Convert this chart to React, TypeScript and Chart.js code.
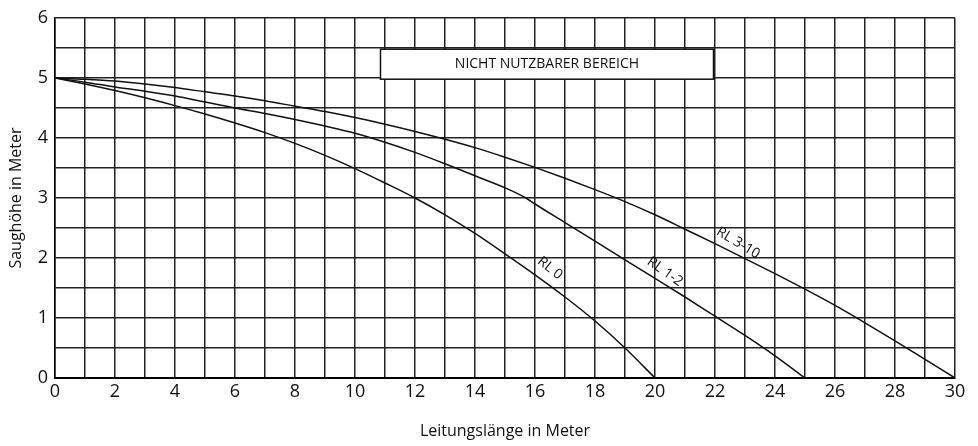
import React, { useEffect, useRef } from "react";
import { Chart, registerables } from "chart.js";

Chart.register(...registerables);

// RL 0 curve
const rl0X = [0, 1, 2, 3, 4, 5, 6, 7, 8, 9, 10, 11, 12, 13, 14, 15, 16, 17, 18, 19, 20];
const rl0Y = [5, 4.9, 4.79, 4.67, 4.54, 4.4, 4.25, 4.09, 3.91, 3.71, 3.49, 3.25, 3.0, 2.72, 2.41, 2.07, 1.72, 1.35, 0.95, 0.5, 0];

// RL 1-2 curve
const rl12X = [0, 1, 2, 3, 4, 5, 6, 7, 8, 9, 10, 11, 12, 13, 14, 15, 15.7, 16, 17, 18, 19, 20, 21, 22, 23, 24, 25];
const rl12Y = [5, 4.93, 4.85, 4.78, 4.7, 4.6, 4.5, 4.41, 4.31, 4.2, 4.08, 3.93, 3.76, 3.57, 3.37, 3.17, 3.0, 2.9, 2.59, 2.28, 1.97, 1.66, 1.35, 1.03, 0.71, 0.37, 0];

// RL 3-10 curve
const rl310X = [0, 1, 2, 3, 4, 5, 6, 7, 8, 9, 10, 11, 12, 13, 14, 15, 16, 17, 18, 19, 20, 21, 22, 23, 24, 25, 26, 27, 28, 29, 30];
const rl310Y = [5, 4.98, 4.95, 4.9, 4.84, 4.77, 4.7, 4.62, 4.53, 4.44, 4.34, 4.23, 4.11, 3.98, 3.84, 3.68, 3.51, 3.33, 3.14, 2.94, 2.72, 2.48, 2.24, 1.99, 1.74, 1.48, 1.21, 0.92, 0.62, 0.31, 0];

const curveNames = ["RL 0", "RL 1-2", "RL 3-10"];
const curveLabelAt = [
  [16.5, 1.83, 38],
  [20.33, 1.77, 35],
  [22.77, 2.25, 31],
];

const boxRange = [10.85, 21.95, 4.98, 5.48];
const boxText = "NICHT NUTZBARER BEREICH";

const xTitle = "Leitungslänge in Meter";
const yTitle = "Saughöhe in Meter";

const FONT = "'Open Sans', 'Noto Sans', sans-serif";

const toPts = (xs: number[], ys: number[]) => xs.map((x, i) => ({ x, y: ys[i] }));

const boxPlugin = {
  id: "nutzBox",
  beforeDatasetsDraw(chart: any) {
    const { ctx, scales } = chart;
    const x = scales.x;
    const y = scales.y;
    const l = x.getPixelForValue(boxRange[0]);
    const r = x.getPixelForValue(boxRange[1]);
    const b = y.getPixelForValue(boxRange[2]);
    const t = y.getPixelForValue(boxRange[3]);
    ctx.save();
    ctx.fillStyle = "#ffffff";
    ctx.fillRect(l, t, r - l, b - t);
    ctx.strokeStyle = "#111";
    ctx.lineWidth = 1.5;
    ctx.strokeRect(l, t, r - l, b - t);
    ctx.fillStyle = "#111";
    ctx.font = `14px ${FONT}`;
    ctx.textAlign = "center";
    ctx.textBaseline = "middle";
    ctx.fillText(boxText, (l + r) / 2, (t + b) / 2);
    ctx.restore();
  },
  afterDatasetsDraw(chart: any) {
    const { ctx, scales } = chart;
    ctx.save();
    ctx.fillStyle = "#111";
    ctx.font = `14px ${FONT}`;
    ctx.textAlign = "center";
    ctx.textBaseline = "middle";
    curveNames.forEach((name, i) => {
      const [dx, dy, ang] = curveLabelAt[i];
      const px = scales.x.getPixelForValue(dx);
      const py = scales.y.getPixelForValue(dy);
      ctx.save();
      ctx.translate(px, py);
      ctx.rotate((ang * Math.PI) / 180);
      ctx.fillText(name, 0, 0);
      ctx.restore();
    });
    ctx.restore();
  },
};

export default function App() {
  const ref = useRef<HTMLCanvasElement | null>(null);
  useEffect(() => {
    if (!ref.current) return;
    const lineDs = (label: string, xs: number[], ys: number[]) => ({
      label,
      data: toPts(xs, ys),
      borderColor: "#111",
      borderWidth: 1.5,
      pointRadius: 0,
      fill: false,
      cubicInterpolationMode: "monotone" as const,
    });
    const chart = new Chart(ref.current, {
      type: "line",
      data: {
        datasets: [
          lineDs(curveNames[0], rl0X, rl0Y),
          lineDs(curveNames[1], rl12X, rl12Y),
          lineDs(curveNames[2], rl310X, rl310Y),
        ],
      },
      options: {
        animation: false,
        responsive: false,
        layout: { padding: { left: 0, right: 23, top: 18, bottom: 0 } },
        plugins: { legend: { display: false }, tooltip: { enabled: false } },
        scales: {
          x: {
            type: "linear",
            min: 0,
            max: 30,
            afterFit: (s: any) => {
              s.height = 68;
            },
            grid: { color: "#222", lineWidth: 1.5, drawTicks: false },
            border: { color: "#000", width: 2 },
            ticks: {
              stepSize: 1,
              autoSkip: false,
              maxRotation: 0,
              padding: 3,
              color: "#111",
              font: { family: FONT, size: 18 },
              callback: (v: any) => (Number(v) % 2 === 0 ? String(v) : ""),
            },
            title: {
              display: true,
              text: xTitle,
              color: "#111",
              font: { family: FONT, size: 16 },
              padding: { top: 0, bottom: 5 },
            },
          },
          y: {
            type: "linear",
            min: 0,
            max: 6,
            afterFit: (s: any) => {
              s.width = 55;
            },
            grid: { color: "#222", lineWidth: 1.5, drawTicks: false },
            border: { color: "#000", width: 1.5 },
            ticks: {
              stepSize: 0.5,
              autoSkip: false,
              padding: 7,
              color: "#111",
              font: { family: FONT, size: 18 },
              callback: (v: any) => (Number.isInteger(Number(v)) ? String(v) : ""),
            },
            title: {
              display: true,
              text: yTitle,
              color: "#111",
              font: { family: FONT, size: 16 },
              padding: { top: 7, bottom: 0 },
            },
          },
        },
      },
      plugins: [boxPlugin],
    });
    return () => chart.destroy();
  }, []);
  return (
    <div style={{ position: "fixed", left: 0, top: 0, width: 978, height: 446, background: "#fff" }}>
      <canvas ref={ref} width={978} height={446} />
    </div>
  );
}
